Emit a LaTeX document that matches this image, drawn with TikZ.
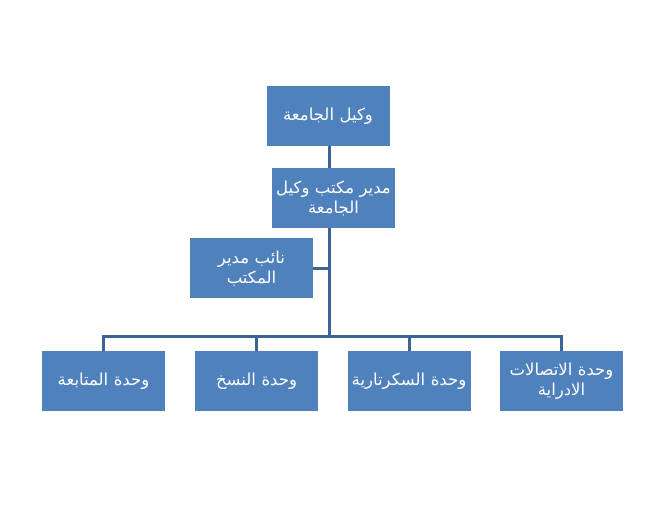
\documentclass[tikz,border=0pt]{standalone}
\usepackage{fontspec}
\newfontfamily\arabicfont[Script=Arabic]{DejaVu Sans}
\TeXXeTstate=1
\definecolor{BoxBlue}{HTML}{4F81BD}
\definecolor{LineBlue}{HTML}{3D6497}
\newcommand{\ar}[1]{\beginR #1\endR}

\begin{document}
\begin{tikzpicture}[x=1pt,y=-1pt,every node/.style={font=\arabicfont\fontsize{16.5}{20}\selectfont,text=white},unit/.style={fill=BoxBlue,minimum width=123pt,minimum height=60pt,text width=121pt,inner sep=1pt,align=center},conn/.style={line width=3pt,draw=LineBlue}]
\useasboundingbox (0,0) rectangle (657,510);

\node[unit] (dean) at (328,116) {\ar{وكيل الجامعة}};
\node[unit] (mgr) at (333.5,198) {\ar{مدير مكتب وكيل}\\\ar{الجامعة}};
\node[unit] (asst) at (251.5,268.5) {\ar{نائب مدير}\\\ar{المكتب}};

\node[unit] (follow) at (103.5,381) {\ar{وحدة المتابعة}};
\node[unit] (copy) at (256.5,381) {\ar{وحدة النسخ}};
\node[unit] (secr) at (409,381) {\ar{وحدة السكرتارية}};
\node[unit] (comm) at (561.5,381) {\ar{وحدة الاتصالات}\\\ar{الادراية}};

\draw[conn] (dean.south -| 329,0) -- (mgr.north -| 329,0);
\draw[conn] (mgr.south -| 329,0) -- (329,337) coordinate (hub);
\draw[conn] (asst.east) -- (asst.east -| hub);
\draw[conn] (hub) -| (follow.north);
\draw[conn] (hub) -| (copy.north);
\draw[conn] (hub) -| (secr.north);
\draw[conn] (hub) -| (comm.north);

\end{tikzpicture}
\end{document}
